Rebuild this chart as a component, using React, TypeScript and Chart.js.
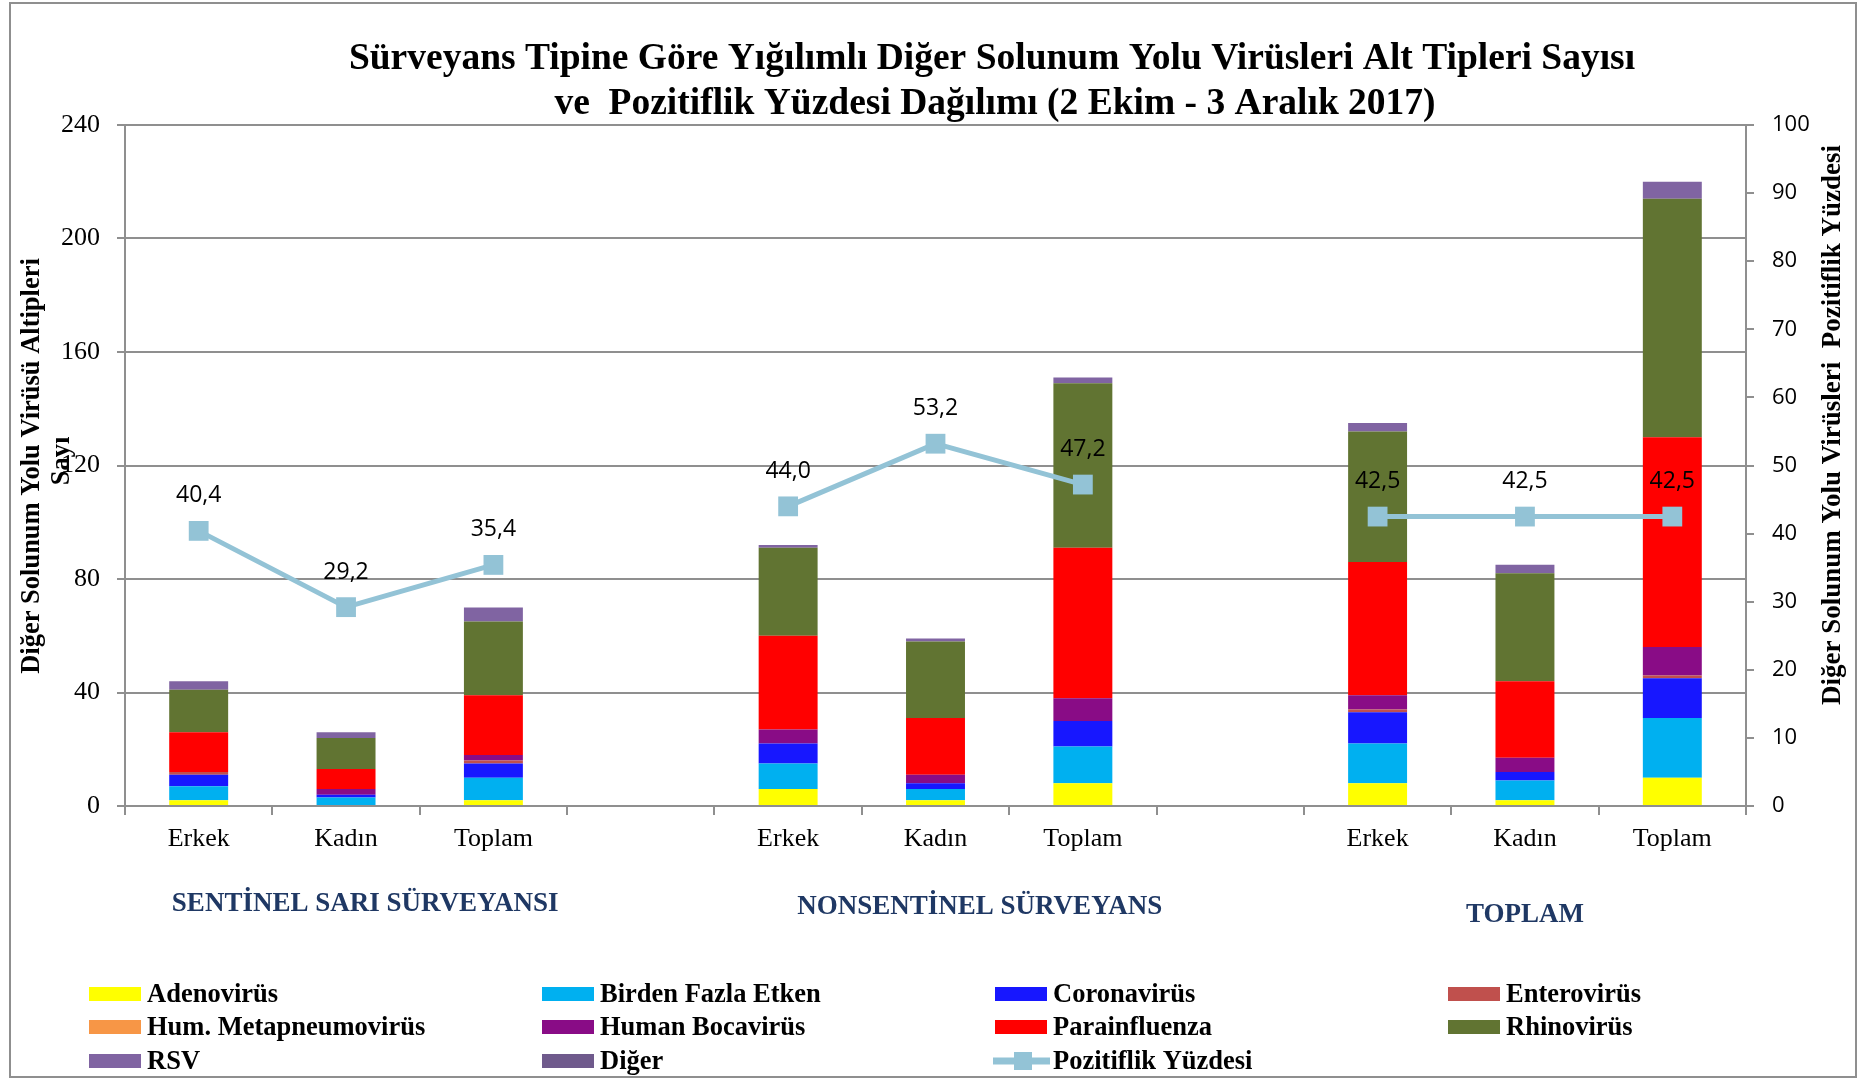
import React, { useEffect, useRef } from 'react';
import { Chart, registerables } from 'chart.js';

Chart.register(...registerables);

// ---------------- DATA ----------------
const categories = ['Erkek', 'Kadın', 'Toplam', '', 'Erkek', 'Kadın', 'Toplam', '', 'Erkek', 'Kadın', 'Toplam'];
const groupLabels = ['SENTİNEL SARI SÜRVEYANSI', 'NONSENTİNEL SÜRVEYANS', 'TOPLAM'];

const adenovirus = [2, 0, 2, null, 6, 2, 8, null, 8, 2, 10];
const birdenFazlaEtken = [5, 3, 8, null, 9, 4, 13, null, 14, 7, 21];
const coronavirus = [4, 1, 5, null, 7, 2, 9, null, 11, 3, 14];
const enterovirus = [1, 0, 1, null, 0, 0, 0, null, 1, 0, 1];
const humMetapneumovirus = [0, 0, 0, null, 0, 0, 0, null, 0, 0, 0];
const humanBocavirus = [0, 2, 2, null, 5, 3, 8, null, 5, 5, 10];
const parainfluenza = [14, 7, 21, null, 33, 20, 53, null, 47, 27, 74];
const rhinovirus = [15, 11, 26, null, 31, 27, 58, null, 46, 38, 84];
const rsv = [3, 2, 5, null, 1, 1, 2, null, 3, 3, 6];
const diger = [0, 0, 0, null, 0, 0, 0, null, 0, 0, 0];
const pozitiflikYuzdesi = [40.4, 29.2, 35.4, null, 44.0, 53.2, 47.2, null, 42.5, 42.5, 42.5];

const leftTicksMax = 240;
const leftTicksStep = 40;
const rightTicksMax = 100;
const rightTicksStep = 10;

const titleLines = [
  'Sürveyans Tipine Göre Yığılımlı Diğer Solunum Yolu Virüsleri Alt Tipleri Sayısı',
  've  Pozitiflik Yüzdesi Dağılımı (2 Ekim - 3 Aralık 2017)',
];
const leftAxisTitle = ['Diğer Solunum Yolu Virüsü Altipleri', 'Sayı'];
const rightAxisTitle = 'Diğer Solunum Yolu Virüsleri  Pozitiflik Yüzdesi';

// ---------------- STYLES ----------------
const SERIF = "'Liberation Serif', 'Times New Roman', serif";
const SANS = "'Open Sans', 'Noto Sans', sans-serif";
const GRID = '#8f8f8f';
const LINE_COLOR = '#93C3D6';

const barSeries = [
  { label: 'Adenovirüs', data: adenovirus, color: '#FFFF00' },
  { label: 'Birden Fazla Etken', data: birdenFazlaEtken, color: '#00B0F0' },
  { label: 'Coronavirüs', data: coronavirus, color: '#1717FF' },
  { label: 'Enterovirüs', data: enterovirus, color: '#C0504D' },
  { label: 'Hum. Metapneumovirüs', data: humMetapneumovirus, color: '#F79646' },
  { label: 'Human Bocavirüs', data: humanBocavirus, color: '#890C86' },
  { label: 'Parainfluenza', data: parainfluenza, color: '#FF0000' },
  { label: 'Rhinovirüs', data: rhinovirus, color: '#617432' },
  { label: 'RSV', data: rsv, color: '#8064A2' },
  { label: 'Diğer', data: diger, color: '#6F5A8C' },
];
const lineLabel = 'Pozitiflik Yüzdesi';

const decorPlugin = {
  id: 'decor',
  afterDatasetsDraw(chart: any) {
    const ctx = chart.ctx;
    const idx = chart.data.datasets.length - 1;
    const meta = chart.getDatasetMeta(idx);
    ctx.save();
    ctx.font = `23px ${SANS}`;
    ctx.fillStyle = '#000';
    ctx.textAlign = 'center';
    ctx.textBaseline = 'middle';
    meta.data.forEach((pt: any, i: number) => {
      const v = chart.data.datasets[idx].data[i];
      if (v === null || v === undefined) return;
      ctx.fillText(Number(v).toFixed(1).replace('.', ','), pt.x, pt.y - 35);
    });
    ctx.restore();
  },
  afterDraw(chart: any) {
    const ctx = chart.ctx;
    ctx.save();
    // frame
    ctx.strokeStyle = GRID;
    ctx.lineWidth = 2;
    ctx.strokeRect(10, 3, 1846, 1074);

    // title
    ctx.fillStyle = '#000';
    ctx.textAlign = 'center';
    ctx.textBaseline = 'alphabetic';
    ctx.font = `bold 37.5px ${SERIF}`;
    ctx.fillText(titleLines[0], 992, 69);
    ctx.fillText(titleLines[1], 995, 114);

    // axis titles
    ctx.font = `bold 26.5px ${SERIF}`;
    ctx.textBaseline = 'middle';
    ctx.save();
    ctx.translate(32, 466);
    ctx.rotate(-Math.PI / 2);
    ctx.fillText(leftAxisTitle[0], 0, 0);
    ctx.restore();
    ctx.save();
    ctx.translate(62, 461);
    ctx.rotate(-Math.PI / 2);
    ctx.fillText(leftAxisTitle[1], 0, 0);
    ctx.restore();
    ctx.font = `bold 27px ${SERIF}`;
    ctx.save();
    ctx.translate(1833, 425);
    ctx.rotate(-Math.PI / 2);
    ctx.fillText(rightAxisTitle, 0, 0);
    ctx.restore();

    // group labels
    const xs = chart.scales.x;
    const groupPos = [
      { c: 1.13, y: 904 },
      { c: 5.3, y: 907 },
      { c: 9, y: 915 },
    ];
    ctx.font = `bold 27px ${SERIF}`;
    ctx.fillStyle = '#1F3864';
    groupLabels.forEach((g, i) => {
      const x = xs.getPixelForValue(groupPos[i].c);
      ctx.fillText(g, x, groupPos[i].y);
    });

    // legend
    const cols = [89, 542, 995, 1448];
    const rows = [994, 1027, 1061];
    ctx.font = `bold 26.5px ${SERIF}`;
    ctx.textAlign = 'left';
    ctx.textBaseline = 'middle';
    const items = [...barSeries.map((s) => ({ label: s.label, color: s.color, line: false })), { label: lineLabel, color: LINE_COLOR, line: true }];
    items.forEach((it, i) => {
      const x = cols[i % 4];
      const y = rows[Math.floor(i / 4)];
      if (it.line) {
        ctx.strokeStyle = it.color;
        ctx.lineWidth = 7;
        ctx.beginPath();
        ctx.moveTo(x - 2, y);
        ctx.lineTo(x + 55, y);
        ctx.stroke();
        ctx.fillStyle = it.color;
        ctx.fillRect(x + 19, y - 9, 18, 18);
      } else {
        ctx.fillStyle = it.color;
        ctx.fillRect(x, y - 7, 52, 14);
      }
      ctx.fillStyle = '#000';
      ctx.fillText(it.label, x + 58, y + 1);
    });
    ctx.restore();
  },
};

export default function App() {
  const ref = useRef<HTMLCanvasElement | null>(null);
  useEffect(() => {
    if (!ref.current) return;
    const datasets: any[] = barSeries.map((s) => ({
      type: 'bar',
      label: s.label,
      data: s.data,
      backgroundColor: s.color,
      borderWidth: 0,
      stack: 'viruses',
      yAxisID: 'y',
      barPercentage: 0.4,
      categoryPercentage: 1,
      order: 1,
    }));
    datasets.push({
      type: 'line',
      label: lineLabel,
      data: pozitiflikYuzdesi,
      borderColor: LINE_COLOR,
      backgroundColor: LINE_COLOR,
      borderWidth: 5,
      pointStyle: 'rect',
      pointRadius: 14,
      pointBackgroundColor: LINE_COLOR,
      pointBorderColor: LINE_COLOR,
      pointBorderWidth: 0,
      yAxisID: 'y1',
      spanGaps: false,
      order: 0,
    });
    const chart = new Chart(ref.current, {
      type: 'bar',
      data: { labels: categories, datasets },
      options: {
        animation: false,
        responsive: false,
        devicePixelRatio: 1,
        layout: { padding: { left: 0, right: 0, top: 125, bottom: 0 } },
        plugins: {
          legend: { display: false },
          title: { display: false },
          tooltip: { enabled: false },
        },
        scales: {
          x: {
            stacked: true,
            offset: true,
            grid: { drawOnChartArea: false, color: GRID, lineWidth: 2, tickLength: 9, offset: true },
            border: { color: GRID, width: 2 },
            ticks: { font: { family: SERIF, size: 26 }, color: '#000', padding: 9, autoSkip: false, maxRotation: 0 },
            afterFit: (s: any) => { s.height = 273; },
          },
          y: {
            position: 'left',
            stacked: true,
            min: 0,
            max: leftTicksMax,
            ticks: { stepSize: leftTicksStep, font: { family: SERIF, size: 26 }, color: '#000', padding: 17 },
            grid: { color: GRID, lineWidth: 2, tickLength: 8 },
            border: { color: GRID, width: 2 },
            afterFit: (s: any) => { s.width = 125; },
          },
          y1: {
            position: 'right',
            min: 0,
            max: rightTicksMax,
            ticks: { stepSize: rightTicksStep, font: { family: SANS, size: 22 }, color: '#000', padding: 18 },
            grid: { drawOnChartArea: false, color: GRID, lineWidth: 2, tickLength: 8 },
            border: { color: GRID, width: 2 },
            afterFit: (s: any) => { s.width = 123; },
          },
        },
      } as any,
      plugins: [decorPlugin],
    });
    return () => chart.destroy();
  }, []);
  return (
    <div style={{ position: 'absolute', left: 0, top: 0, width: 1869, height: 1079, background: '#fff' }}>
      <canvas ref={ref} width={1869} height={1079} />
    </div>
  );
}
